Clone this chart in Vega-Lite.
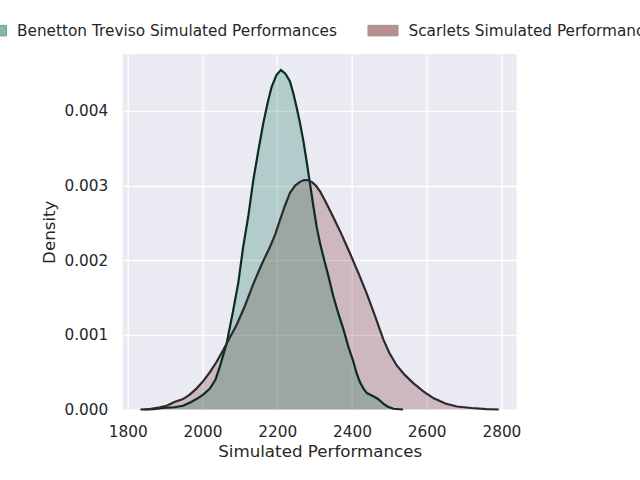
{
  "$schema": "https://vega.github.io/schema/vega-lite/v6.json",
  "autosize": {"type": "none"},
  "width": 394,
  "height": 355.5,
  "padding": {"left": 122.7, "top": 54, "right": 123.3, "bottom": 70.5},
  "background": "white",
  "config": {
    "font": "DejaVu Sans",
    "view": {"fill": "#eaeaf2", "stroke": null},
    "axis": {
      "domain": false, "ticks": false, "grid": true, "gridColor": "white", "gridWidth": 1.3,
      "labelColor": "#262626", "labelFontSize": 15.3, "labelFont": "DejaVu Sans",
      "titleColor": "#262626", "titleFontSize": 16.7, "titleFont": "DejaVu Sans", "titleFontWeight": "normal"
    }
  },
  "datasets": {
    "kde": [
      {"team": "Benetton Treviso Simulated Performances", "x": 1834, "d": 0},
      {"team": "Benetton Treviso Simulated Performances", "x": 1870, "d": 0.000005},
      {"team": "Benetton Treviso Simulated Performances", "x": 1894, "d": 0.00002},
      {"team": "Benetton Treviso Simulated Performances", "x": 1925, "d": 0.00003},
      {"team": "Benetton Treviso Simulated Performances", "x": 1948, "d": 0.00005},
      {"team": "Benetton Treviso Simulated Performances", "x": 1970, "d": 0.0001},
      {"team": "Benetton Treviso Simulated Performances", "x": 1984, "d": 0.00014},
      {"team": "Benetton Treviso Simulated Performances", "x": 2002, "d": 0.0002},
      {"team": "Benetton Treviso Simulated Performances", "x": 2020, "d": 0.00028},
      {"team": "Benetton Treviso Simulated Performances", "x": 2035, "d": 0.0004},
      {"team": "Benetton Treviso Simulated Performances", "x": 2047, "d": 0.00058},
      {"team": "Benetton Treviso Simulated Performances", "x": 2065, "d": 0.00089},
      {"team": "Benetton Treviso Simulated Performances", "x": 2082, "d": 0.00132},
      {"team": "Benetton Treviso Simulated Performances", "x": 2096, "d": 0.0017},
      {"team": "Benetton Treviso Simulated Performances", "x": 2109, "d": 0.00218},
      {"team": "Benetton Treviso Simulated Performances", "x": 2123, "d": 0.0026},
      {"team": "Benetton Treviso Simulated Performances", "x": 2136, "d": 0.00307},
      {"team": "Benetton Treviso Simulated Performances", "x": 2150, "d": 0.00348},
      {"team": "Benetton Treviso Simulated Performances", "x": 2163, "d": 0.00384},
      {"team": "Benetton Treviso Simulated Performances", "x": 2175, "d": 0.00412},
      {"team": "Benetton Treviso Simulated Performances", "x": 2185, "d": 0.00432},
      {"team": "Benetton Treviso Simulated Performances", "x": 2198, "d": 0.00448},
      {"team": "Benetton Treviso Simulated Performances", "x": 2210, "d": 0.004548},
      {"team": "Benetton Treviso Simulated Performances", "x": 2222, "d": 0.0045},
      {"team": "Benetton Treviso Simulated Performances", "x": 2234, "d": 0.0044},
      {"team": "Benetton Treviso Simulated Performances", "x": 2243, "d": 0.00424},
      {"team": "Benetton Treviso Simulated Performances", "x": 2252, "d": 0.00405},
      {"team": "Benetton Treviso Simulated Performances", "x": 2261, "d": 0.00384},
      {"team": "Benetton Treviso Simulated Performances", "x": 2270, "d": 0.0036},
      {"team": "Benetton Treviso Simulated Performances", "x": 2279, "d": 0.00332},
      {"team": "Benetton Treviso Simulated Performances", "x": 2288, "d": 0.00302},
      {"team": "Benetton Treviso Simulated Performances", "x": 2297, "d": 0.00272},
      {"team": "Benetton Treviso Simulated Performances", "x": 2306, "d": 0.00244},
      {"team": "Benetton Treviso Simulated Performances", "x": 2315, "d": 0.00222},
      {"team": "Benetton Treviso Simulated Performances", "x": 2324, "d": 0.00204},
      {"team": "Benetton Treviso Simulated Performances", "x": 2337, "d": 0.00179},
      {"team": "Benetton Treviso Simulated Performances", "x": 2350, "d": 0.00152},
      {"team": "Benetton Treviso Simulated Performances", "x": 2364, "d": 0.00128},
      {"team": "Benetton Treviso Simulated Performances", "x": 2377, "d": 0.00108},
      {"team": "Benetton Treviso Simulated Performances", "x": 2390, "d": 0.00085},
      {"team": "Benetton Treviso Simulated Performances", "x": 2404, "d": 0.00064},
      {"team": "Benetton Treviso Simulated Performances", "x": 2413, "d": 0.00048},
      {"team": "Benetton Treviso Simulated Performances", "x": 2422, "d": 0.00036},
      {"team": "Benetton Treviso Simulated Performances", "x": 2431, "d": 0.00028},
      {"team": "Benetton Treviso Simulated Performances", "x": 2440, "d": 0.00022},
      {"team": "Benetton Treviso Simulated Performances", "x": 2452, "d": 0.00019},
      {"team": "Benetton Treviso Simulated Performances", "x": 2467, "d": 0.00015},
      {"team": "Benetton Treviso Simulated Performances", "x": 2475, "d": 0.00012},
      {"team": "Benetton Treviso Simulated Performances", "x": 2484, "d": 0.00008},
      {"team": "Benetton Treviso Simulated Performances", "x": 2495, "d": 0.00004},
      {"team": "Benetton Treviso Simulated Performances", "x": 2511, "d": 0.00001},
      {"team": "Benetton Treviso Simulated Performances", "x": 2537, "d": 0},
      {"team": "Scarlets Simulated Performances", "x": 1845, "d": 0},
      {"team": "Scarlets Simulated Performances", "x": 1859, "d": 0.000005},
      {"team": "Scarlets Simulated Performances", "x": 1886, "d": 0.00003},
      {"team": "Scarlets Simulated Performances", "x": 1904, "d": 0.00005},
      {"team": "Scarlets Simulated Performances", "x": 1925, "d": 0.0001},
      {"team": "Scarlets Simulated Performances", "x": 1948, "d": 0.00014},
      {"team": "Scarlets Simulated Performances", "x": 1966, "d": 0.0002},
      {"team": "Scarlets Simulated Performances", "x": 1984, "d": 0.00028},
      {"team": "Scarlets Simulated Performances", "x": 2002, "d": 0.00038},
      {"team": "Scarlets Simulated Performances", "x": 2020, "d": 0.0005},
      {"team": "Scarlets Simulated Performances", "x": 2038, "d": 0.00064},
      {"team": "Scarlets Simulated Performances", "x": 2056, "d": 0.0008},
      {"team": "Scarlets Simulated Performances", "x": 2073, "d": 0.00096},
      {"team": "Scarlets Simulated Performances", "x": 2091, "d": 0.00113},
      {"team": "Scarlets Simulated Performances", "x": 2113, "d": 0.00138},
      {"team": "Scarlets Simulated Performances", "x": 2136, "d": 0.00168},
      {"team": "Scarlets Simulated Performances", "x": 2158, "d": 0.00194},
      {"team": "Scarlets Simulated Performances", "x": 2181, "d": 0.00218},
      {"team": "Scarlets Simulated Performances", "x": 2195, "d": 0.00235},
      {"team": "Scarlets Simulated Performances", "x": 2207, "d": 0.00253},
      {"team": "Scarlets Simulated Performances", "x": 2220, "d": 0.00272},
      {"team": "Scarlets Simulated Performances", "x": 2234, "d": 0.0029},
      {"team": "Scarlets Simulated Performances", "x": 2248, "d": 0.003},
      {"team": "Scarlets Simulated Performances", "x": 2261, "d": 0.00305},
      {"team": "Scarlets Simulated Performances", "x": 2272, "d": 0.003074},
      {"team": "Scarlets Simulated Performances", "x": 2283, "d": 0.003074},
      {"team": "Scarlets Simulated Performances", "x": 2295, "d": 0.00304},
      {"team": "Scarlets Simulated Performances", "x": 2305, "d": 0.00299},
      {"team": "Scarlets Simulated Performances", "x": 2315, "d": 0.00292},
      {"team": "Scarlets Simulated Performances", "x": 2330, "d": 0.00278},
      {"team": "Scarlets Simulated Performances", "x": 2350, "d": 0.00258},
      {"team": "Scarlets Simulated Performances", "x": 2372, "d": 0.00235},
      {"team": "Scarlets Simulated Performances", "x": 2395, "d": 0.00209},
      {"team": "Scarlets Simulated Performances", "x": 2418, "d": 0.00182},
      {"team": "Scarlets Simulated Performances", "x": 2440, "d": 0.00155},
      {"team": "Scarlets Simulated Performances", "x": 2462, "d": 0.00125},
      {"team": "Scarlets Simulated Performances", "x": 2484, "d": 0.00094},
      {"team": "Scarlets Simulated Performances", "x": 2500, "d": 0.00076},
      {"team": "Scarlets Simulated Performances", "x": 2520, "d": 0.00059},
      {"team": "Scarlets Simulated Performances", "x": 2542, "d": 0.00046},
      {"team": "Scarlets Simulated Performances", "x": 2565, "d": 0.00035},
      {"team": "Scarlets Simulated Performances", "x": 2592, "d": 0.00024},
      {"team": "Scarlets Simulated Performances", "x": 2619, "d": 0.00015},
      {"team": "Scarlets Simulated Performances", "x": 2650, "d": 0.00008},
      {"team": "Scarlets Simulated Performances", "x": 2681, "d": 0.00004},
      {"team": "Scarlets Simulated Performances", "x": 2720, "d": 0.00002},
      {"team": "Scarlets Simulated Performances", "x": 2760, "d": 0.000005},
      {"team": "Scarlets Simulated Performances", "x": 2793, "d": 0}
    ]
  },
  "data": {"name": "kde"},
  "encoding": {
    "x": {
      "field": "x", "type": "quantitative", "title": "Simulated Performances",
      "scale": {"domain": [1786.6, 2841], "nice": false, "zero": false},
      "axis": {"values": [1800, 2000, 2200, 2400, 2600, 2800], "format": "d", "labelPadding": 15, "titlePadding": 4}
    },
    "y": {
      "field": "d", "type": "quantitative", "title": "Density", "stack": null,
      "scale": {"domain": [0, 0.004763], "nice": false},
      "axis": {"values": [0, 0.001, 0.002, 0.003, 0.004], "format": ".3f", "labelPadding": 15, "titlePadding": 5}
    }
  },
  "layer": [
    {
      "transform": [{"filter": "datum.team === 'Scarlets Simulated Performances'"}],
      "mark": {"type": "area", "fillOpacity": 0.25, "strokeWidth": 0},
      "encoding": {
        "fill": {
          "field": "team", "type": "nominal",
          "scale": {"domain": ["Benetton Treviso Simulated Performances", "Scarlets Simulated Performances"], "range": ["#0a7256", "#722222"]},
          "legend": {
            "title": null, "orient": "none", "direction": "horizontal",
            "legendX": -146.7, "legendY": -39,
            "symbolType": "M-1,-0.35H1V0.35H-1Z", "symbolSize": 900,
            "symbolOpacity": 0.5, "symbolStrokeColor": "#2d2629", "symbolStrokeWidth": 1,
            "labelFontSize": 15.3, "labelColor": "#262626", "labelFont": "DejaVu Sans",
            "labelOffset": 10, "labelLimit": 0, "columnPadding": 28.5, "padding": 0
          }
        }
      }
    },
    {
      "transform": [{"filter": "datum.team === 'Benetton Treviso Simulated Performances'"}],
      "mark": {"type": "area", "fillOpacity": 0.25, "strokeWidth": 0},
      "encoding": {
        "fill": {"field": "team", "type": "nominal"}
      }
    },
    {
      "mark": {"type": "line", "strokeWidth": 2.2},
      "encoding": {
        "stroke": {
          "field": "team", "type": "nominal",
          "scale": {"domain": ["Benetton Treviso Simulated Performances", "Scarlets Simulated Performances"], "range": ["#0d2b1e", "#2d2a2e"]},
          "legend": null
        }
      }
    }
  ]
}
